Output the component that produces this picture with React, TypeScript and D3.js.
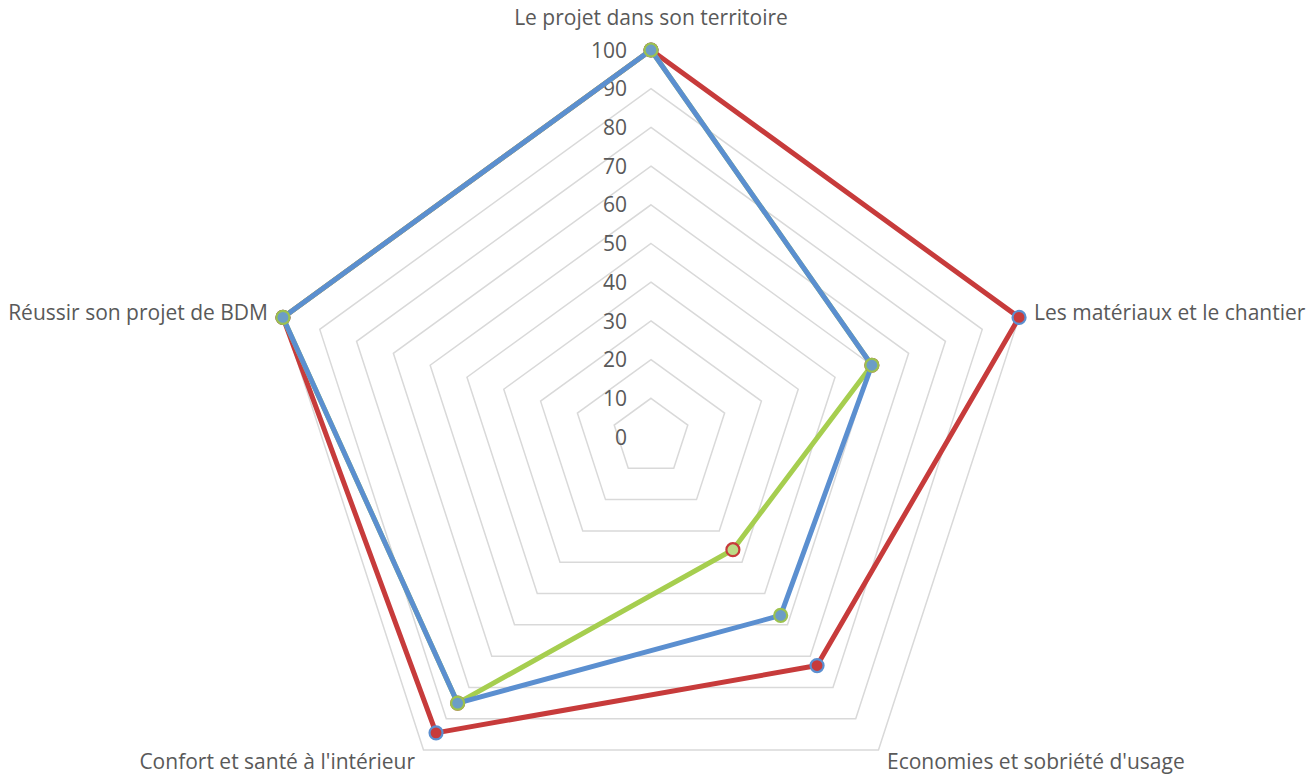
import React from "react";
import * as d3 from "d3";

const axes = [
  "Le projet dans son territoire",
  "Les matériaux et le chantier",
  "Economies et sobriété d'usage",
  "Confort et santé à l'intérieur",
  "Réussir son projet de BDM",
];
const ticks = [0, 10, 20, 30, 40, 50, 60, 70, 80, 90, 100];

const redValues = [100, 100, 73, 94.5, 100];
const greenValues = [100, 60, 36, 85, 100];
const blueValues = [100, 60, 57, 85, 100];

const series = [
  { name: "red", values: redValues, line: "#C73B3B", fill: "#C73B3B", stroke: "#5B8FD0" },
  { name: "green", values: greenValues, line: "#A6CE4F", fill: "#BCDB86", stroke: "#C73B3B" },
  { name: "blue", values: blueValues, line: "#5B8FD0", fill: "#6C9DC6", stroke: "#9CC24F" },
];

const W = 1310;
const H = 774;
const cx = 651;
const cy = 437;
const R = 387;

const r = d3.scaleLinear().domain([0, 100]).range([0, R]);
const angle = (i: number) => (i * 2 * Math.PI) / axes.length;
const pt = (i: number, v: number): [number, number] => {
  const a = angle(i);
  return [cx + r(v) * Math.sin(a), cy - r(v) * Math.cos(a)];
};

const font = "'Open Sans', 'DejaVu Sans', sans-serif";

export default function App() {
  const closed = d3.line<[number, number]>().curve(d3.curveLinearClosed);
  const labelPos: { x: number; y: number; anchor: string }[] = [
    { x: cx, y: 19, anchor: "middle" },
    { x: 1034, y: 314, anchor: "start" },
    { x: 887, y: 763, anchor: "start" },
    { x: 415, y: 763, anchor: "end" },
    { x: 268, y: 314, anchor: "end" },
  ];
  return (
    <svg
      width={W}
      height={H}
      style={{ position: "absolute", left: 0, top: 0, background: "#fff" }}
    >
      {ticks
        .filter((t) => t > 0)
        .map((t) => (
          <path
            key={t}
            d={closed(axes.map((_, i) => pt(i, t))) || ""}
            fill="none"
            stroke="#D9D9D9"
            strokeWidth={1.5}
          />
        ))}
      {ticks.map((t) => (
        <text
          key={t}
          x={627}
          y={cy - r(t) + 2}
          textAnchor="end"
          dominantBaseline="middle"
          fontFamily={font}
          fontSize={21}
          fill="#595959"
        >
          {t}
        </text>
      ))}
      {series.map((s) => (
        <g key={s.name}>
          <path
            d={closed(s.values.map((v, i) => pt(i, v))) || ""}
            fill="none"
            stroke={s.line}
            strokeWidth={5}
            strokeLinejoin="round"
          />
          {s.values.map((v, i) => {
            const [x, y] = pt(i, v);
            return (
              <circle key={i} cx={x} cy={y} r={6.5} fill={s.fill} stroke={s.stroke} strokeWidth={2.2} />
            );
          })}
        </g>
      ))}
      {axes.map((name, i) => (
        <text
          key={name}
          x={labelPos[i].x}
          y={labelPos[i].y}
          textAnchor={labelPos[i].anchor as any}
          dominantBaseline="middle"
          fontFamily={font}
          fontSize={21}
          fill="#595959"
        >
          {name}
        </text>
      ))}
    </svg>
  );
}
